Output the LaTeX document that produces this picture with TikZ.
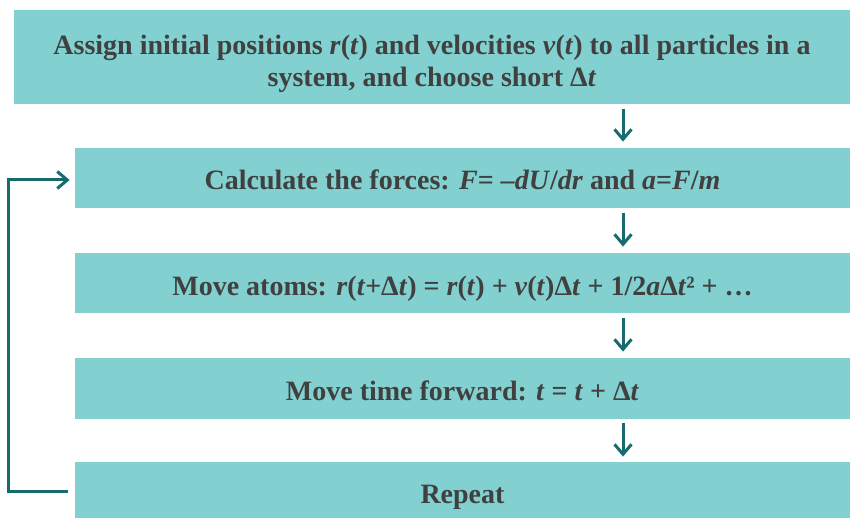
\documentclass[tikz,border=0pt]{standalone}
\usepackage{fontspec}
\setmainfont{Liberation Serif}
\usetikzlibrary{arrows.meta}
\definecolor{boxfill}{HTML}{82D1D0}
\definecolor{flowcol}{HTML}{176B6E}
\definecolor{textcol}{HTML}{404040}
\begin{document}
\begin{tikzpicture}[x=0.5pt, y=-0.5pt, font=\fontsize{14}{16}\selectfont\bfseries,
  stepbox/.style={fill=boxfill, text=textcol, inner sep=0pt, align=center,
    minimum width=387.5pt, minimum height=30pt, text height=13pt, text depth=1pt},
  flow/.style={draw=flowcol, line width=1.5pt, -{Straight Barb[length=5pt, width=8.5pt, line width=1.5pt]}}]
  \useasboundingbox (0,0) rectangle (850,518);
  \node[stepbox, minimum width=418pt, minimum height=47pt, text height=, text depth=] (init) at (432,57)
    {\rule{0pt}{17pt}Assign initial positions \textit{r}(\textit{t}) and velocities \textit{v}(\textit{t}) to all particles in a\\
     system, and choose short Δ\textit{t}};
  \node[stepbox] (force) at (462.5,178) {Calculate the forces: \textit{F}= \textit{–dU}/\textit{dr} and \textit{a}=\textit{F}/\textit{m}};
  \node[stepbox] (move) at (462.5,283)
    {Move atoms: \textit{r}(\textit{t}+Δ\textit{t}) = \textit{r}(\textit{t}) + \textit{v}(\textit{t})Δ\textit{t} + 1/2\textit{a}Δ\textit{t}² + …};
  \node[stepbox, minimum height=30.5pt] (time) at (462.5,388.5) {Move time forward: \textit{t} = \textit{t} + Δ\textit{t}};
  \node[stepbox, minimum height=29pt] (repeat) at (462.5,491) {Repeat};
  \coordinate (ax) at (623,0);
  \draw[flow] ([yshift=-2.5pt]init.south -| ax) -- ([yshift=3pt]force.north -| ax);
  \draw[flow] ([yshift=-2.5pt]force.south -| ax) -- ([yshift=3pt]move.north -| ax);
  \draw[flow] ([yshift=-2.5pt]move.south -| ax) -- ([yshift=3pt]time.north -| ax);
  \draw[flow] ([yshift=-2pt]time.south -| ax) -- ([yshift=2.5pt]repeat.north -| ax);
  % loop back
  \draw[flow] ([xshift=-3.5pt]repeat.west) -- ++(-59,0)
    |- ([xshift=-2.5pt, yshift=-1pt]force.west);
\end{tikzpicture}
\end{document}
